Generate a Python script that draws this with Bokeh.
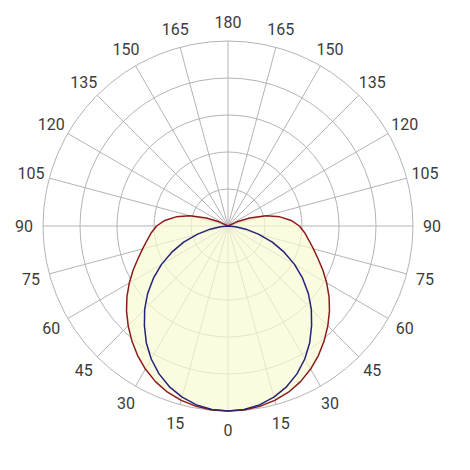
import numpy as np
from bokeh.plotting import figure
from bokeh.models import ColumnDataSource
from bokeh.core.properties import value
from bokeh.embed import file_html
from bokeh.resources import INLINE

# Angles (degrees from nadir) and relative intensities (1.0 = outer ring)
angles = [0, 5, 10, 15, 20, 25, 30, 35, 40, 45, 50, 55, 60, 65, 70, 75, 80, 85, 90,
          95, 100, 105, 110, 115, 120, 125, 130, 135, 140, 145, 150, 155, 160, 165, 170, 175, 180]
plane_c0_180 = [1.00, 0.995, 0.982, 0.958, 0.925, 0.882, 0.83, 0.77, 0.703, 0.637, 0.567, 0.492,
                0.415, 0.335, 0.255, 0.17, 0.098, 0.042, 0.0,
                0, 0, 0, 0, 0, 0, 0, 0, 0, 0, 0, 0, 0, 0, 0, 0, 0, 0]
plane_c90_270 = [1.00, 0.998, 0.99, 0.976, 0.956, 0.928, 0.893, 0.853, 0.809, 0.763, 0.716, 0.667,
                 0.616, 0.566, 0.518, 0.478, 0.444, 0.416, 0.386,
                 0.343, 0.285, 0.213, 0.125, 0.05, 0.0, 0, 0, 0, 0, 0, 0, 0, 0, 0, 0, 0, 0]
ring_radii = [0.2, 0.4, 0.6, 0.8, 1.0]
spoke_angles = list(range(0, 360, 15))
label_angles = [0, 15, 30, 45, 60, 75, 90, 105, 120, 135, 150, 165, 180]

W = H = 454
SCALE = 185.0
CX, CY = 227.5, 225.5
p = figure(width=W, height=H, output_backend="svg", toolbar_location=None,
           x_range=(-CX / SCALE, (W - CX) / SCALE),
           y_range=(-(H - CY) / SCALE, CY / SCALE),
           x_axis_type=None, y_axis_type=None, min_border=0)
p.outline_line_color = None
p.grid.visible = False
p.background_fill_color = "white"


def polar_xy(angs, vals, side):
    a = np.radians(np.asarray(angs, dtype=float))
    r = np.asarray(vals, dtype=float)
    return side * r * np.sin(a), -r * np.cos(a)


def closed_curve(vals):
    xl, yl = polar_xy(angles, vals, -1)
    xr, yr = polar_xy(angles, vals, 1)
    xs = np.concatenate([xr, xl[::-1]])
    ys = np.concatenate([yr, yl[::-1]])
    return xs, ys


# grid rings
grid_color = "#b4b4b4"
p.circle(x=[0] * len(ring_radii), y=[0] * len(ring_radii), radius=ring_radii,
         fill_color=None, line_color=grid_color, line_width=1)
# spokes
sa = np.radians(spoke_angles)
p.segment(x0=np.zeros(len(sa)), y0=np.zeros(len(sa)),
          x1=np.sin(sa) * ring_radii[-1], y1=-np.cos(sa) * ring_radii[-1],
          line_color=grid_color, line_width=1)

# fills
rx, ry = closed_curve(plane_c90_270)
bx, by = closed_curve(plane_c0_180)
p.patch(rx, ry, fill_color="#fafad2", fill_alpha=0.7, line_color=None)

# curves
p.line(rx, ry, line_color="#8b1a1a", line_width=1.5, line_join="round")
p.line(bx, by, line_color="#23237a", line_width=1.5, line_join="round")

# labels
LR = 204 / SCALE
lx, ly, lt = [], [], []
for a in label_angles:
    for side in ([1] if a in (0, 180) else [-1, 1]):
        x, y = polar_xy([a], [LR], side)
        lx.append(x[0]); ly.append(y[0]); lt.append(str(a))
src = ColumnDataSource(dict(x=lx, y=ly, t=lt))
p.text(x="x", y="y", text="t", source=src, text_align="center", text_baseline="middle",
       text_font=value("Roboto"), text_font_size="16px", text_color="#3c3c3c")

open("out.html", "w").write(file_html(p, INLINE))
